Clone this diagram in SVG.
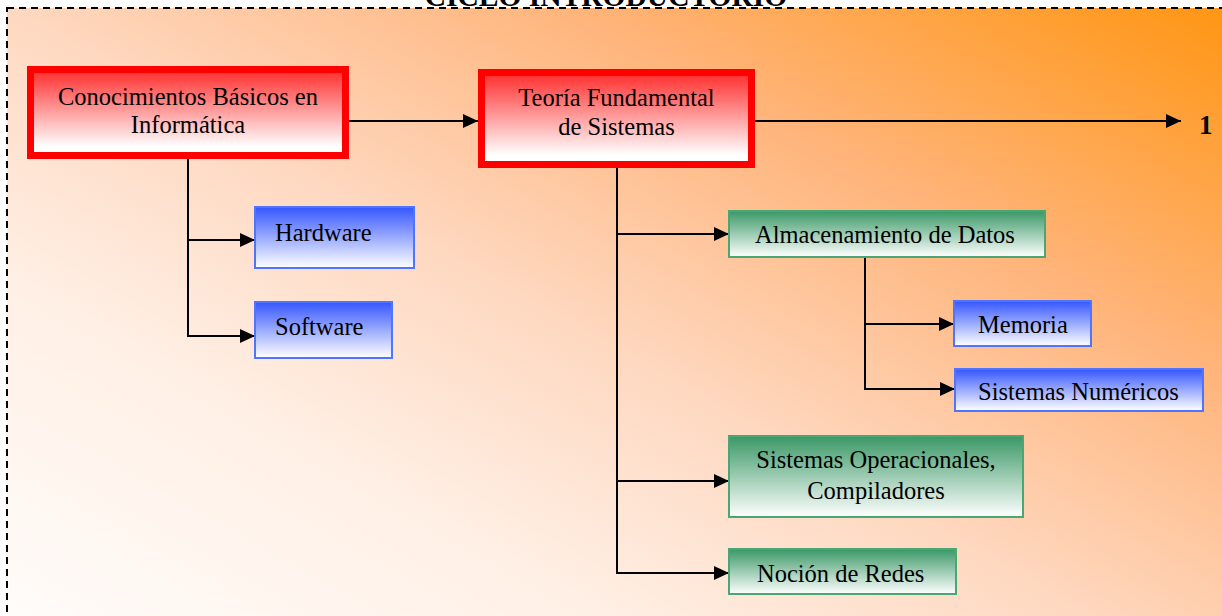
<svg xmlns="http://www.w3.org/2000/svg" width="1222" height="616" viewBox="0 0 1222 616">
  <defs>
    <linearGradient id="bg" x1="0" y1="1" x2="1" y2="0">
      <stop offset="0" stop-color="#ffffff"/>
      <stop offset="0.3" stop-color="#fff0e6"/>
      <stop offset="0.5" stop-color="#fed8c0"/>
      <stop offset="0.73" stop-color="#ffb47a"/>
      <stop offset="1" stop-color="#ff9510"/>
    </linearGradient>
    <linearGradient id="redFill" x1="0" y1="0" x2="0" y2="1">
      <stop offset="0" stop-color="#ff2b2b"/>
      <stop offset="0.9" stop-color="#ffffff"/>
    </linearGradient>
    <linearGradient id="blueFill" x1="0" y1="0" x2="0" y2="1">
      <stop offset="0" stop-color="#3556ff"/>
      <stop offset="1" stop-color="#ffffff"/>
    </linearGradient>
    <linearGradient id="greenFill" x1="0" y1="0" x2="0" y2="1">
      <stop offset="0" stop-color="#3a9866"/>
      <stop offset="1" stop-color="#ffffff"/>
    </linearGradient>
    <marker id="arrow" markerUnits="userSpaceOnUse" markerWidth="15" markerHeight="14" refX="15" refY="7" orient="auto">
      <path d="M0,0 L15,7 L0,14 z" fill="#000"/>
    </marker>
    <style>
      text { font-family: "Liberation Serif", "Times New Roman", serif; font-size: 24.5px; fill: #000; }
      .title { font-weight: bold; font-size: 29.5px; }
      .num { font-weight: bold; font-size: 27px; }
      .red { fill: url(#redFill); stroke: #ff0000; stroke-width: 7; }
      .blue { fill: url(#blueFill); stroke: #4f74ff; stroke-width: 2; }
      .green { fill: url(#greenFill); stroke: #4aa774; stroke-width: 2; }
      .link { fill: none; stroke: #000; stroke-width: 2; }
      .mid { text-anchor: middle; }
    </style>
  </defs>

  <!-- page background -->
  <rect x="0" y="0" width="1222" height="616" fill="#ffffff"/>
  <text class="title mid" x="606" y="5.5">CICLO INTRODUCTORIO</text>

  <!-- dashed frame with gradient fill (runs past the page edges) -->
  <rect x="7" y="8" width="1240" height="700" fill="url(#bg)" stroke="#000" stroke-width="2" stroke-dasharray="7 5"/>

  <!-- connectors -->
  <g id="connectors">
    <path class="link" d="M349,121 H478" marker-end="url(#arrow)"/>
    <path class="link" d="M755,121 H1181" marker-end="url(#arrow)"/>
    <path class="link" d="M188,159 V336"/>
    <path class="link" d="M187,240 H255" marker-end="url(#arrow)"/>
    <path class="link" d="M187,336 H255" marker-end="url(#arrow)"/>
    <path class="link" d="M617,168 V573"/>
    <path class="link" d="M616,234 H729" marker-end="url(#arrow)"/>
    <path class="link" d="M616,481 H729" marker-end="url(#arrow)"/>
    <path class="link" d="M616,573 H729" marker-end="url(#arrow)"/>
    <path class="link" d="M865,257 V390"/>
    <path class="link" d="M864,324 H954" marker-end="url(#arrow)"/>
    <path class="link" d="M864,389 H955" marker-end="url(#arrow)"/>
  </g>

  <g id="basicos">
    <rect class="red" x="30.5" y="69.5" width="315" height="86"/>
    <text class="mid" x="188" y="105">Conocimientos Básicos en</text>
    <text class="mid" x="188" y="133">Informática</text>
  </g>

  <g id="teoria">
    <rect class="red" x="481.5" y="72.5" width="270" height="92"/>
    <text class="mid" x="616.5" y="106">Teoría Fundamental</text>
    <text class="mid" x="616.5" y="135">de Sistemas</text>
  </g>

  <g id="siguiente">
    <text class="num" x="1199" y="134">1</text>
  </g>

  <g id="hardware">
    <rect class="blue" x="255" y="207" width="159" height="61"/>
    <text x="275" y="241">Hardware</text>
  </g>

  <g id="software">
    <rect class="blue" x="255" y="302" width="137" height="56"/>
    <text x="275" y="335">Software</text>
  </g>

  <g id="almacenamiento">
    <rect class="green" x="729" y="211" width="316" height="46"/>
    <text x="755" y="243">Almacenamiento de Datos</text>
  </g>

  <g id="memoria">
    <rect class="blue" x="954" y="301" width="137" height="45"/>
    <text x="978" y="333">Memoria</text>
  </g>

  <g id="numericos">
    <rect class="blue" x="955" y="369" width="248" height="42"/>
    <text x="978" y="400">Sistemas Numéricos</text>
  </g>

  <g id="operacionales">
    <rect class="green" x="729" y="436" width="294" height="81"/>
    <text class="mid" x="876" y="468">Sistemas Operacionales,</text>
    <text class="mid" x="876" y="499">Compiladores</text>
  </g>

  <g id="redes">
    <rect class="green" x="729" y="549" width="227" height="45"/>
    <text x="757" y="582">Noción de Redes</text>
  </g>
</svg>
